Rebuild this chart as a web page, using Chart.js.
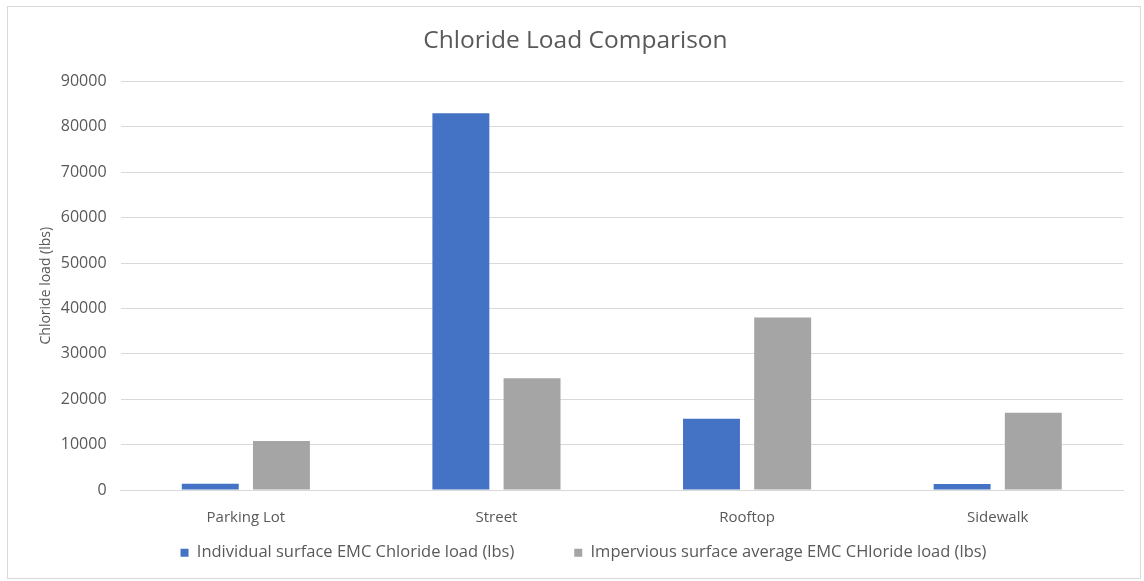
<!DOCTYPE html>
<html>
<head>
<meta charset="utf-8">
<script src="https://cdn.jsdelivr.net/npm/chart.js@4"></script>
<style>
  body { margin: 0; background: #fff; }
  #wrap { position: absolute; left: 7px; top: 6px; width: 1132px; height: 571px; border: 1px solid #d9d9d9; }
</style>
</head>
<body>
<div id="wrap"><canvas id="grafico"></canvas></div>
<script>
var categorias = ["Parking Lot", "Street", "Rooftop", "Sidewalk"];
var individual = [1400, 83000, 15700, 1300];
var impervious = [10800, 24600, 38000, 17000];
var ticksY = [0, 10000, 20000, 30000, 40000, 50000, 60000, 70000, 80000, 90000];

var gris = "#595959";
var fuente = "'Open Sans', sans-serif";

// mover la leyenda un poco a la derecha, como en el original
var moverLeyenda = {
  id: 'moverLeyenda',
  afterLayout: function(chart) {
    chart.legend.left += 8;
    chart.legend.right += 8;
  }
};

var ctx = document.getElementById("grafico");
var grafico = new Chart(ctx, {
  type: 'bar',
  data: {
    labels: categorias,
    datasets: [{
      label: 'Individual surface EMC Chloride load (lbs)',
      data: individual,
      backgroundColor: '#4472c4',
      categoryPercentage: 0.568,
      barPercentage: 0.8
    }, {
      label: 'Impervious surface average EMC CHloride load (lbs)',
      data: impervious,
      backgroundColor: '#a5a5a5',
      categoryPercentage: 0.568,
      barPercentage: 0.8
    }]
  },
  plugins: [moverLeyenda],
  options: {
    responsive: true,
    maintainAspectRatio: false,
    animation: false,
    layout: { padding: { left: 20, right: 17, top: 10, bottom: 7 } },
    plugins: {
      title: {
        display: true,
        text: 'Chloride Load Comparison',
        color: gris,
        font: { family: fuente, size: 24.5, weight: 'normal' },
        padding: { top: 9, bottom: 26 }
      },
      legend: {
        position: 'bottom',
        labels: {
          color: gris,
          font: { family: fuente, size: 16.5 },
          boxWidth: 8,
          boxHeight: 8,
          padding: 0,
          generateLabels: function(chart) {
            var items = Chart.defaults.plugins.legend.labels.generateLabels(chart);
            // separacion entre los dos items de la leyenda
            items[0].text = items[0].text + '              ';
            return items;
          }
        }
      },
      tooltip: { enabled: false }
    },
    scales: {
      x: {
        grid: { display: false, drawTicks: false },
        border: { color: '#d9d9d9' },
        ticks: { color: gris, font: { family: fuente, size: 15, lineHeight: 1.1 }, padding: 19 }
      },
      y: {
        min: 0,
        max: 90000,
        afterBuildTicks: function(eje) {
          eje.ticks = ticksY.map(function(v) { return { value: v }; });
        },
        grid: { color: '#d9d9d9', drawTicks: false },
        border: { display: false },
        ticks: {
          color: gris,
          font: { family: fuente, size: 16 },
          padding: 14,
          callback: function(v) { return String(v); }
        },
        title: {
          display: true,
          text: 'Chloride load (lbs)',
          color: gris,
          font: { family: fuente, size: 14 },
          padding: { top: 10, bottom: -8 }
        }
      }
    }
  }
});
</script>
</body>
</html>
